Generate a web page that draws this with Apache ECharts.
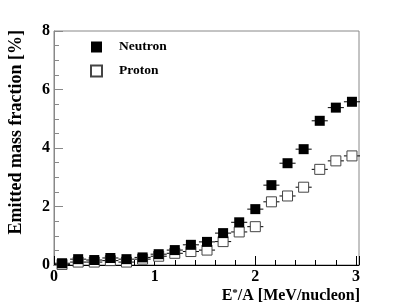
<!DOCTYPE html>
<html><head><meta charset="utf-8">
<script src="https://cdn.jsdelivr.net/npm/echarts@6/dist/echarts.min.js"></script>
<style>html,body{margin:0;padding:0;background:#fff}#c{width:415px;height:304px}</style>
</head><body><div id="c"></div>
<script>
var energy = [0.08,0.24,0.40,0.56,0.72,0.88,1.04,1.20,1.36,1.52,1.68,1.84,2.00,2.16,2.32,2.48,2.64,2.80,2.96];
var neutron = [0.06,0.20,0.17,0.24,0.20,0.26,0.37,0.51,0.69,0.79,1.09,1.46,1.91,2.73,3.48,3.96,4.93,5.38,5.58];
var proton  = [0.02,0.10,0.10,0.15,0.10,0.20,0.30,0.40,0.46,0.51,0.80,1.13,1.31,2.16,2.36,2.66,3.27,3.56,3.73];
var halfBin = 0.08;
var yTicks = [0,2,4,6,8];
var xTicks = [0,1,2,3];

function pairs(ys){return energy.map(function(x,i){return [x, ys[i]];});}
function errSeries(ys, color){
  return {type:'custom', silent:true, z:2,
    data: pairs(ys),
    renderItem:function(p,api){
      var a=api.coord([api.value(0)-halfBin, api.value(1)]);
      var b=api.coord([api.value(0)+halfBin, api.value(1)]);
      return {type:'line', shape:{x1:a[0],y1:a[1],x2:b[0],y2:b[1]}, style:{stroke:color, lineWidth:1}};
    }};
}
var serif = 'Liberation Serif';
var chart = echarts.init(document.getElementById('c'));
chart.setOption({
  animation:false,
  grid:{left:54,right:56,top:31,bottom:39,show:true,borderColor:'#888',borderWidth:1},
  legend:{orient:'vertical',left:85,top:35,itemWidth:11,itemHeight:11,itemGap:10,
    textStyle:{fontFamily:serif,fontWeight:'bold',fontSize:13.5,color:'#000',padding:[0,0,0,12]},
    data:[{name:'Neutron',icon:'rect'},{name:'Proton',icon:'rect'}]},
  xAxis:{type:'value',min:0,max:3.03,interval:1,
    axisLine:{show:true,lineStyle:{color:'#000'}},
    axisTick:{show:true,inside:true,length:9,lineStyle:{color:'#000'}},
    minorTick:{show:true,splitNumber:5,length:5,lineStyle:{color:'#000'}},
    splitLine:{show:false},
    axisLabel:{fontFamily:serif,fontWeight:'bold',fontSize:16,color:'#000',margin:4,
      showMaxLabel:false,formatter:function(v){return xTicks.indexOf(Math.round(v))>=0?String(Math.round(v)):'';}}},
  yAxis:{type:'value',min:0,max:8,interval:2,
    axisLine:{show:true,lineStyle:{color:'#888'}},
    axisTick:{show:true,inside:true,length:9,lineStyle:{color:'#888'}},
    minorTick:{show:true,splitNumber:4,length:5,lineStyle:{color:'#888'}},
    splitLine:{show:false},
    axisLabel:{fontFamily:serif,fontWeight:'bold',fontSize:16,color:'#000',margin:4,
      formatter:function(v){return yTicks.indexOf(v)>=0?String(v):'';}}},
  graphic:[
    {type:'text',x:16,y:30,rotation:Math.PI/2,
      style:{text:'Emitted mass fraction [%]',fontFamily:serif,fontWeight:'bold',fontSize:18,fill:'#000',align:'right',verticalAlign:'middle'}},
    {type:'text',x:360,y:296,
      style:{text:'{a|E}{s|*}{a|/A [MeV/nucleon]}',align:'right',verticalAlign:'middle',
        rich:{a:{fontFamily:serif,fontWeight:'bold',fontSize:16,fill:'#000'},
              s:{fontFamily:serif,fontWeight:'bold',fontSize:11,fill:'#000',verticalAlign:'top',padding:[0,0,6,0]}}}}
  ],
  series:[
    errSeries(proton,'#000'),
    {name:'Proton',type:'scatter',symbol:'rect',symbolSize:10,z:3,data:pairs(proton),
      itemStyle:{color:'#fff',borderColor:'#444',borderWidth:1,opacity:1}},
    errSeries(neutron,'#000'),
    {name:'Neutron',type:'scatter',symbol:'rect',symbolSize:10,z:4,data:pairs(neutron),
      itemStyle:{color:'#000',opacity:1}}
  ]
});
</script></body></html>
